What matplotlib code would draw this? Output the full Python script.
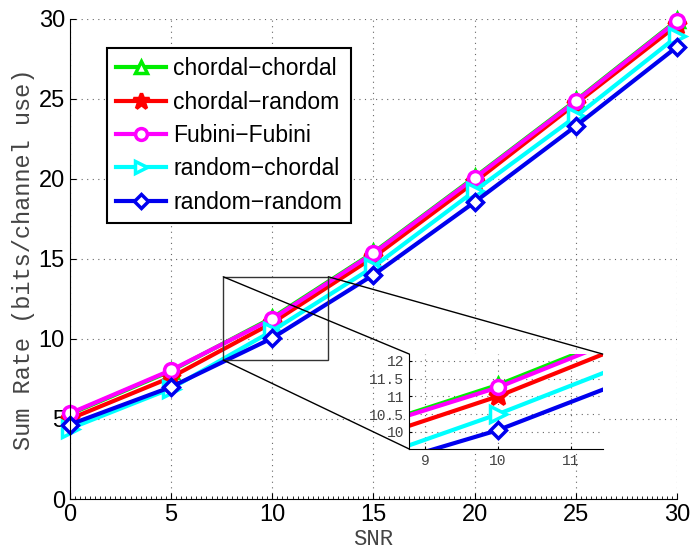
import numpy as np
import matplotlib.pyplot as plt
from matplotlib.patches import Rectangle, ConnectionPatch
from matplotlib.ticker import MultipleLocator

snr = [0, 5, 10, 15, 20, 25, 30]
chordal_chordal = [5.3, 8.0, 11.32, 15.4, 20.1, 24.9, 29.9]
chordal_random = [5.0, 7.6, 11.0, 15.1, 19.8, 24.7, 29.6]
fubini_fubini = [5.35, 8.05, 11.25, 15.35, 20.05, 24.85, 29.85]
random_chordal = [4.4, 6.9, 10.5, 14.5, 19.25, 23.9, 28.9]
random_random = [4.65, 7.0, 10.05, 14.0, 18.55, 23.3, 28.25]

labels = ["chordal\u2212chordal", "chordal\u2212random", "Fubini\u2212Fubini",
          "random\u2212chordal", "random\u2212random"]
series = [chordal_chordal, chordal_random, fubini_fubini, random_chordal, random_random]
colors = ["#00ee00", "#ff0000", "#ff00ff", "#00ffff", "#0000ee"]
markers = ["^", "*", "o", ">", "D"]
msizes = [10, 14, 10, 11, 8]
faces = ["white", "#ff0000", "white", "white", "white"]

plt.rcParams["font.family"] = ["Liberation Sans", "DejaVu Sans"]

fig = plt.figure(figsize=(6.91, 5.49), dpi=100)
ax = fig.add_axes([0.101, 0.091, 0.879, 0.875])


def draw_series(a, clip=True):
    for y, c, m, ms, fc, lab in zip(series, colors, markers, msizes, faces, labels):
        a.plot(snr, y, color=c, marker=m, markersize=ms, markerfacecolor=fc,
               markeredgecolor=c, markeredgewidth=2.5, linewidth=3, label=lab,
               clip_on=clip)


draw_series(ax, clip=False)
ax.set_xlim(0, 30)
ax.set_ylim(0, 30)
ax.set_xticks(range(0, 31, 5))
ax.set_yticks(range(0, 31, 5))
ax.xaxis.set_minor_locator(MultipleLocator(0.25))
ax.tick_params(direction="in", labelsize=17, length=4, width=0.8)
ax.tick_params(which="minor", direction="in", length=2, width=0.6)
ax.grid(True, color="#666666", linestyle=(0, (1, 4)), linewidth=0.8)
for s in ["top", "right"]:
    ax.spines[s].set_visible(False)
ax.set_xlabel("SNR", family="Liberation Mono", fontsize=16, color="#444444", labelpad=2)
ax.set_ylabel("Sum Rate (bits/channel use)", family="Liberation Mono", fontsize=17,
              color="#444444", labelpad=3)

leg = ax.legend(loc="upper left", bbox_to_anchor=(0.061, 0.9386), borderaxespad=0,
                fontsize=16.5, fancybox=False, framealpha=1, edgecolor="black",
                handlelength=2.2, labelspacing=0.45, handletextpad=0.3, borderpad=0.4,
                markerscale=0.85)
leg.get_frame().set_linewidth(1.5)

# zoom box
x0, x1, y0, y1 = 7.58, 12.77, 8.68, 13.88
ax.add_patch(Rectangle((x0, y0), x1 - x0, y1 - y0, fill=False, edgecolor="#333333",
                       linewidth=1.0, zorder=5))

axins = fig.add_axes([0.5923, 0.1821, 0.2799, 0.1730])
draw_series(axins)
axins.set_xlim(8.785, 11.44)
axins.set_ylim(9.52, 12.19)
axins.set_xticks([9, 10, 11])
axins.set_yticks([10, 10.5, 11, 11.5, 12])
axins.set_yticklabels(["10", "10.5", "11", "11.5", "12"])
axins.tick_params(direction="in", labelsize=10.5, length=2, labelcolor="#444444")
for t in axins.get_xticklabels() + axins.get_yticklabels():
    t.set_family("Liberation Mono")
axins.grid(True, color="#666666", linestyle=(0, (1, 4)), linewidth=0.8)
for s in ["top", "right"]:
    axins.spines[s].set_visible(False)
axins.patch.set_facecolor("white")

for xa, xb in [((x0, y1), (0, 1)), ((x1, y1), (1, 1)), ((x0, y0), (0, 0))]:
    con = ConnectionPatch(xyA=xa, coordsA=ax.transData, xyB=xb, coordsB=axins.transAxes,
                          color="black", linewidth=1.0)
    fig.add_artist(con)

fig.savefig("out.png", dpi=100)
